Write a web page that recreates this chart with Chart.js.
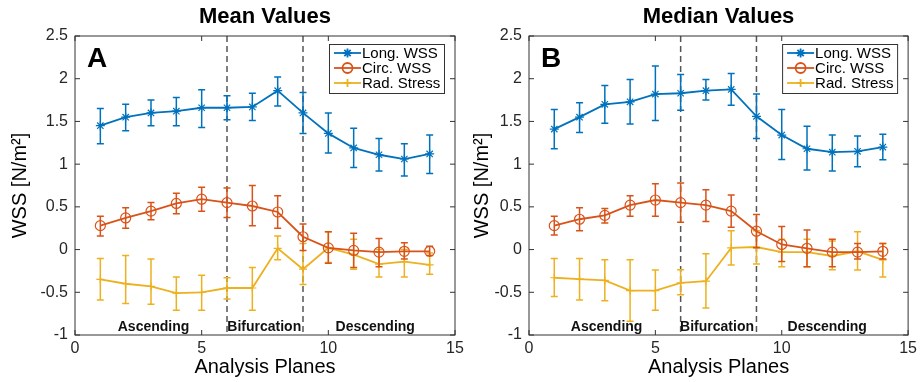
<!DOCTYPE html>
<html>
<head>
<meta charset="utf-8">
<script src="https://cdn.jsdelivr.net/npm/chart.js@4.4.0/dist/chart.umd.min.js"></script>
<style>
  html, body { margin: 0; padding: 0; background: #fff; }
  .panel { position: absolute; top: 0; height: 382px; }
  #wrapA { left: 0; width: 470px; }
  #wrapB { left: 460px; width: 461px; }
</style>
</head>
<body>
<div class="panel" id="wrapA"><canvas id="chartA"></canvas></div>
<div class="panel" id="wrapB"><canvas id="chartB"></canvas></div>
<script>
// analysis planes along the aorta
const planes = [1, 2, 3, 4, 5, 6, 7, 8, 9, 10, 11, 12, 13, 14]
const seriesNames = ['Long. WSS', 'Circ. WSS', 'Rad. Stress']
const xTicks = [0, 5, 10, 15]
const yTicks = [-1, -0.5, 0, 0.5, 1, 1.5, 2, 2.5]
const dividers = [6, 9]
const regionNames = ['Ascending', 'Bifurcation', 'Descending']
const regionCentersA = [3.1, 7.47, 11.85]
const regionCentersB = [3.07, 7.44, 11.8]

// panel A - mean values
const meanLong   = [1.45, 1.55, 1.60, 1.62, 1.66, 1.66, 1.67, 1.86, 1.60, 1.36, 1.19, 1.11, 1.06, 1.12]
const meanLongHi = [1.65, 1.70, 1.75, 1.78, 1.87, 1.80, 1.83, 2.02, 1.84, 1.60, 1.42, 1.30, 1.24, 1.34]
const meanLongLo = [1.24, 1.39, 1.45, 1.45, 1.43, 1.52, 1.51, 1.68, 1.36, 1.13, 0.96, 0.92, 0.86, 0.89]
const meanCirc   = [0.28, 0.37, 0.45, 0.54, 0.59, 0.55, 0.51, 0.44, 0.15, 0.02, -0.01, -0.03, -0.02, -0.02]
const meanCircHi = [0.39, 0.49, 0.55, 0.66, 0.73, 0.72, 0.75, 0.63, 0.30, 0.21, 0.19, 0.13, 0.08, 0.04]
const meanCircLo = [0.16, 0.25, 0.35, 0.42, 0.45, 0.375, 0.28, 0.25, -0.01, -0.16, -0.21, -0.20, -0.11, -0.07]
const meanRad    = [-0.35, -0.40, -0.43, -0.51, -0.50, -0.45, -0.45, 0.015, -0.23, 0.02, -0.06, -0.17, -0.14, -0.18]
const meanRadHi  = [-0.105, -0.07, -0.11, -0.32, -0.30, -0.33, -0.21, 0.16, 0.07, 0.21, 0.12, 0.0, 0.0, -0.04]
const meanRadLo  = [-0.59, -0.63, -0.64, -0.71, -0.71, -0.58, -0.71, -0.12, -0.41, -0.15, -0.23, -0.32, -0.32, -0.29]

// panel B - median values
const medLong   = [1.41, 1.55, 1.70, 1.73, 1.82, 1.83, 1.86, 1.875, 1.56, 1.34, 1.18, 1.14, 1.15, 1.20]
const medLongHi = [1.64, 1.72, 1.92, 1.99, 2.15, 2.05, 1.99, 2.06, 1.82, 1.64, 1.445, 1.34, 1.33, 1.35]
const medLongLo = [1.18, 1.37, 1.48, 1.47, 1.51, 1.63, 1.75, 1.69, 1.30, 1.055, 0.93, 0.92, 0.97, 1.05]
const medCirc   = [0.28, 0.355, 0.40, 0.52, 0.58, 0.55, 0.52, 0.45, 0.215, 0.06, 0.015, -0.03, -0.03, -0.02]
const medCircHi = [0.39, 0.49, 0.48, 0.63, 0.77, 0.78, 0.70, 0.64, 0.41, 0.27, 0.23, 0.12, 0.07, 0.07]
const medCircLo = [0.17, 0.22, 0.31, 0.39, 0.39, 0.32, 0.33, 0.26, 0.02, -0.14, -0.20, -0.20, -0.11, -0.11]
const medRad    = [-0.33, -0.345, -0.36, -0.48, -0.48, -0.39, -0.37, 0.02, 0.03, -0.03, -0.03, -0.075, -0.02, -0.12]
const medRadHi  = [-0.105, -0.105, -0.12, -0.12, -0.24, -0.235, -0.05, 0.22, 0.22, 0.12, 0.12, 0.10, 0.21, 0.07]
const medRadLo  = [-0.55, -0.59, -0.60, -0.84, -0.71, -0.53, -0.685, -0.18, -0.17, -0.20, -0.20, -0.235, -0.24, -0.32]

const colors = ['#0072BD', '#D95319', '#EDB120']
const markers = ['star', 'circle', 'cross']
const markerSizes = [4.5, 5, 4]
const FONT = "'Liberation Sans', Arial, Helvetica, sans-serif"

Chart.defaults.font.family = FONT
Chart.defaults.color = '#262626'

function drawMarker(ctx, style, x, y, r) {
  Chart.helpers.drawPoint(ctx, { pointStyle: style, radius: r, borderWidth: 1.2 }, x, y)
}

const matlabPlugin = {
  id: 'matlab',
  beforeDatasetsDraw(chart) {
    const { ctx, chartArea: a, scales: { x } } = chart
    ctx.save()
    ctx.setLineDash([6, 4])
    ctx.strokeStyle = '#555'
    ctx.lineWidth = 1.5
    dividers.forEach(d => {
      const px = x.getPixelForValue(d)
      ctx.beginPath()
      ctx.moveTo(px, a.top)
      ctx.lineTo(px, a.bottom)
      ctx.stroke()
    })
    ctx.restore()
  },
  afterDatasetDraw(chart, args) {
    const ds = chart.data.datasets[args.index]
    const { ctx, scales: { x, y } } = chart
    ctx.save()
    ctx.strokeStyle = ds.borderColor
    ctx.lineWidth = 1.5
    ds.data.forEach((p, k) => {
      const px = x.getPixelForValue(p.x)
      const top = y.getPixelForValue(ds.errHi[k])
      const bot = y.getPixelForValue(ds.errLo[k])
      ctx.beginPath()
      ctx.moveTo(px, top); ctx.lineTo(px, bot)
      ctx.moveTo(px - 3.5, top); ctx.lineTo(px + 3.5, top)
      ctx.moveTo(px - 3.5, bot); ctx.lineTo(px + 3.5, bot)
      ctx.stroke()
    })
    ctx.restore()
  },
  afterDatasetsDraw(chart, args, opts) {
    const { ctx, chartArea: a, scales: { x, y } } = chart
    ctx.save()

    // box and inward ticks
    ctx.strokeStyle = '#333'
    ctx.lineWidth = 1
    ctx.strokeRect(a.left, a.top, a.right - a.left, a.bottom - a.top)
    ctx.beginPath()
    xTicks.forEach(v => {
      const px = x.getPixelForValue(v)
      ctx.moveTo(px, a.bottom); ctx.lineTo(px, a.bottom - 5)
      ctx.moveTo(px, a.top); ctx.lineTo(px, a.top + 5)
    })
    yTicks.forEach(v => {
      const py = y.getPixelForValue(v)
      ctx.moveTo(a.left, py); ctx.lineTo(a.left + 5, py)
      ctx.moveTo(a.right, py); ctx.lineTo(a.right - 5, py)
    })
    ctx.stroke()

    // region labels
    ctx.fillStyle = '#111'
    ctx.font = 'bold 14px ' + FONT
    ctx.textAlign = 'center'
    ctx.textBaseline = 'middle'
    regionNames.forEach((n, i) => {
      ctx.fillText(n, x.getPixelForValue(opts.regionCenters[i]), a.bottom - 8)
    })

    // panel letter
    ctx.fillStyle = '#000'
    ctx.font = 'bold 28px ' + FONT
    ctx.textAlign = 'left'
    ctx.textBaseline = 'alphabetic'
    ctx.fillText(opts.letter, a.left + 12, a.top + 31)

    // legend
    const w = 115, h = 49
    const lx = a.right - 11 - w, ly = a.top + 8
    ctx.fillStyle = '#fff'
    ctx.fillRect(lx, ly, w, h)
    ctx.strokeStyle = '#333'
    ctx.strokeRect(lx + 0.5, ly + 0.5, w, h)
    ctx.font = '15px ' + FONT
    ctx.textBaseline = 'middle'
    chart.data.datasets.forEach((ds, i) => {
      const ry = ly + 9 + i * 15
      ctx.strokeStyle = ds.borderColor
      ctx.lineWidth = 1.8
      ctx.beginPath()
      ctx.moveTo(lx + 5, ry); ctx.lineTo(lx + 32, ry)
      ctx.stroke()
      ctx.fillStyle = 'rgba(0,0,0,0)'
      drawMarker(ctx, ds.pointStyle, lx + 18.5, ry, ds.pointRadius)
      ctx.fillStyle = '#000'
      ctx.fillText(ds.label, lx + 33, ry + 1)
    })
    ctx.restore()
  }
}

function seriesSet(vals, lo, hi, i) {
  return {
    label: seriesNames[i],
    data: planes.map((p, k) => ({ x: p, y: vals[k] })),
    errLo: lo,
    errHi: hi,
    borderColor: colors[i],
    backgroundColor: 'rgba(0,0,0,0)',
    pointBorderColor: colors[i],
    borderWidth: 1.8,
    pointStyle: markers[i],
    pointRadius: markerSizes[i],
    pointBorderWidth: 1.2,
    tension: 0
  }
}

function buildPanel(id, cfg) {
  return new Chart(document.getElementById(id), {
    type: 'line',
    data: { datasets: cfg.datasets },
    options: {
      responsive: true,
      maintainAspectRatio: false,
      animation: false,
      layout: { padding: { left: 0, right: cfg.padRight, top: 0, bottom: 0 } },
      plugins: {
        legend: { display: false },
        tooltip: { enabled: false },
        title: {
          display: true, text: cfg.title, fullSize: false, color: '#000',
          font: { size: 22, weight: 'bold' }, padding: { top: 4, bottom: 5.6 }
        },
        matlab: { letter: cfg.letter, regionCenters: cfg.regionCenters }
      },
      scales: {
        x: {
          type: 'linear', min: 0, max: 15,
          afterBuildTicks: s => { s.ticks = xTicks.map(v => ({ value: v })) },
          grid: { display: false, drawTicks: false, tickLength: 0 },
          border: { display: false },
          ticks: { font: { size: 16 }, padding: 4, maxRotation: 0, callback: v => String(v) },
          title: { display: true, text: 'Analysis Planes', color: '#000', font: { size: 20 }, padding: { top: 0, bottom: 3 } },
          afterFit: s => { s.height = 47 }
        },
        y: {
          min: -1, max: 2.5,
          afterBuildTicks: s => { s.ticks = yTicks.map(v => ({ value: v })) },
          grid: { display: false, drawTicks: false, tickLength: 0 },
          border: { display: false },
          ticks: { font: { size: 16 }, padding: 7, callback: v => String(v) },
          title: { display: true, text: 'WSS [N/m²]', color: '#000', font: { size: 20 }, padding: { top: cfg.yTitlePad, bottom: 0 } },
          afterFit: s => { s.width = cfg.yWidth }
        }
      }
    },
    plugins: [matlabPlugin]
  })
}

buildPanel('chartA', {
  title: 'Mean Values', letter: 'A', padRight: 15, yWidth: 75, yTitlePad: 8,
  regionCenters: regionCentersA,
  datasets: [
    seriesSet(meanLong, meanLongLo, meanLongHi, 0),
    seriesSet(meanCirc, meanCircLo, meanCircHi, 1),
    seriesSet(meanRad, meanRadLo, meanRadHi, 2)
  ]
})

buildPanel('chartB', {
  title: 'Median Values', letter: 'B', padRight: 11, yWidth: 69, yTitlePad: 10,
  regionCenters: regionCentersB,
  datasets: [
    seriesSet(medLong, medLongLo, medLongHi, 0),
    seriesSet(medCirc, medCircLo, medCircHi, 1),
    seriesSet(medRad, medRadLo, medRadHi, 2)
  ]
})
</script>
</body>
</html>
